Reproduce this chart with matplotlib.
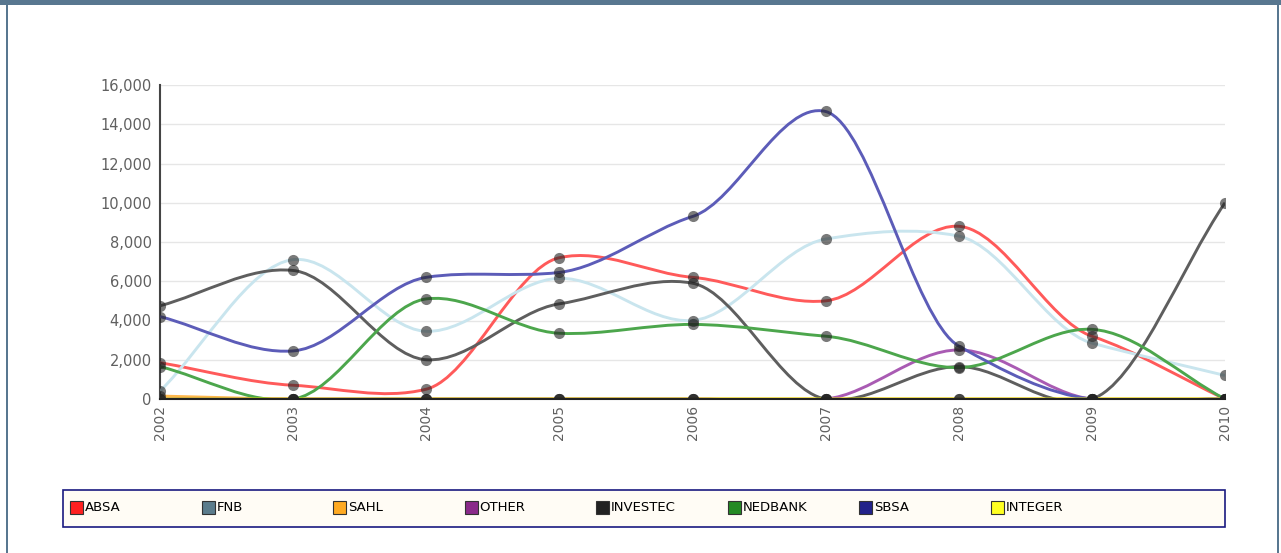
import matplotlib
matplotlib.use('Agg')
import matplotlib.pyplot as plt
import numpy as np
from matplotlib.path import Path
from matplotlib.patches import PathPatch, Rectangle

years = [2002, 2003, 2004, 2005, 2006, 2007, 2008, 2009, 2010]
absa = [1850, 700, 500, 7200, 6200, 5000, 8800, 3200, 0]
fnb = [400, 7100, 3450, 6150, 4000, 8150, 8300, 2850, 1200]
sahl = [150, 0, 0, 0, 0, 0, 0, 0, 0]
other = [0, 0, 0, 0, 0, 0, 2500, 0, 0]
investec = [4750, 6550, 2000, 4850, 5900, 0, 1650, 0, 10000]
nedbank = [1650, 0, 5100, 3350, 3800, 3200, 1600, 3550, 0]
sbsa = [4200, 2450, 6200, 6450, 9300, 14650, 2700, 0, 0]
integer = [0, 0, 0, 0, 0, 0, 0, 0, 0]

names = ['ABSA', 'FNB', 'SAHL', 'OTHER', 'INVESTEC', 'NEDBANK', 'SBSA', 'INTEGER']
series = [absa, fnb, sahl, other, investec, nedbank, sbsa, integer]
line_colors = ['#ff5a5a', '#c9e5ee', '#ffb84d', '#a95bb3', '#5e5e5e', '#4ca64c', '#5c5cb8', '#e8e800']
box_colors = ['#ff2020', '#5b7c8c', '#ffaa22', '#8a2a8a', '#222222', '#248a24', '#22228a', '#ffff22']


def spline_path(xs, ys, k=0.52):
    # cardinal curve through the points, drawn as cubic beziers
    xs = np.asarray(xs, float)
    ys = np.asarray(ys, float)
    n = len(xs)
    t = np.zeros(n)
    t[0] = (ys[1] - ys[0]) / (xs[1] - xs[0])
    t[-1] = (ys[-1] - ys[-2]) / (xs[-1] - xs[-2])
    t[1:-1] = k * (ys[2:] - ys[:-2]) / (xs[2:] - xs[:-2])
    verts = [(xs[0], ys[0])]
    codes = [Path.MOVETO]
    for i in range(n - 1):
        dx = xs[i + 1] - xs[i]
        verts += [(xs[i] + dx / 3, ys[i] + t[i] * dx / 3),
                  (xs[i + 1] - dx / 3, ys[i + 1] - t[i + 1] * dx / 3),
                  (xs[i + 1], ys[i + 1])]
        codes += [Path.CURVE4] * 3
    return Path(verts, codes)


fig = plt.figure(figsize=(12.81, 5.53), dpi=100)
ax = fig.add_axes([160 / 1281, 154 / 553, 1065 / 1281, 314 / 553])

for vals, c in zip(series, line_colors):
    p = spline_path(years, vals)
    ax.add_patch(PathPatch(p, fill=False, edgecolor=c, lw=2.1, zorder=3))
    ax.plot(years, vals, 'o', ms=8, color='#222222', alpha=0.6, mec='none', zorder=4)

ax.set_xlim(2002, 2010)
ax.set_ylim(0, 16000)
ax.set_yticks(np.arange(0, 16001, 2000))
ax.set_yticklabels(['{:,}'.format(v) for v in range(0, 16001, 2000)])
ax.set_xticks(years)
ax.set_xticklabels([str(y) for y in years], rotation=90)
ax.grid(axis='y', color='#e6e6e6', lw=1)
ax.set_axisbelow(True)
for s in ['top', 'right']:
    ax.spines[s].set_visible(False)
ax.spines['left'].set_color('#444444')
ax.spines['left'].set_linewidth(1.5)
ax.spines['bottom'].set_color('#222222')
ax.spines['bottom'].set_linewidth(1.5)
ax.spines['bottom'].set_zorder(5)
ax.tick_params(axis='y', length=0, labelsize=10.5, labelcolor='#606060', pad=6)
ax.tick_params(axis='x', length=0, labelsize=10, labelcolor='#606060', pad=4)

# legend box
fig.patches.append(Rectangle((63 / 1281, 26 / 553), 1162 / 1281, 37 / 553, transform=fig.transFigure,
                             facecolor='#fffcf5', edgecolor='#1a1a80', lw=1.2))
for i, (nm, c) in enumerate(zip(names, box_colors)):
    x0 = 70 + i * 131.5
    fig.patches.append(Rectangle((x0 / 1281, 39 / 553), 13 / 1281, 13 / 553, transform=fig.transFigure,
                                 facecolor=c, edgecolor='#333333', lw=0.8))
    fig.text((x0 + 15) / 1281, 45.5 / 553, nm, fontsize=9.5, color='black', va='center', ha='left')

# outer frame
fig.patches.append(Rectangle((0, 548 / 553), 1, 5 / 553, transform=fig.transFigure,
                             facecolor='#587790', edgecolor='none'))
fig.patches.append(Rectangle((6 / 1281, 0), 2 / 1281, 1, transform=fig.transFigure,
                             facecolor='#587790', edgecolor='none'))
fig.patches.append(Rectangle((1277 / 1281, 0), 2 / 1281, 1, transform=fig.transFigure,
                             facecolor='#587790', edgecolor='none'))

fig.savefig('out.png', dpi=100)
